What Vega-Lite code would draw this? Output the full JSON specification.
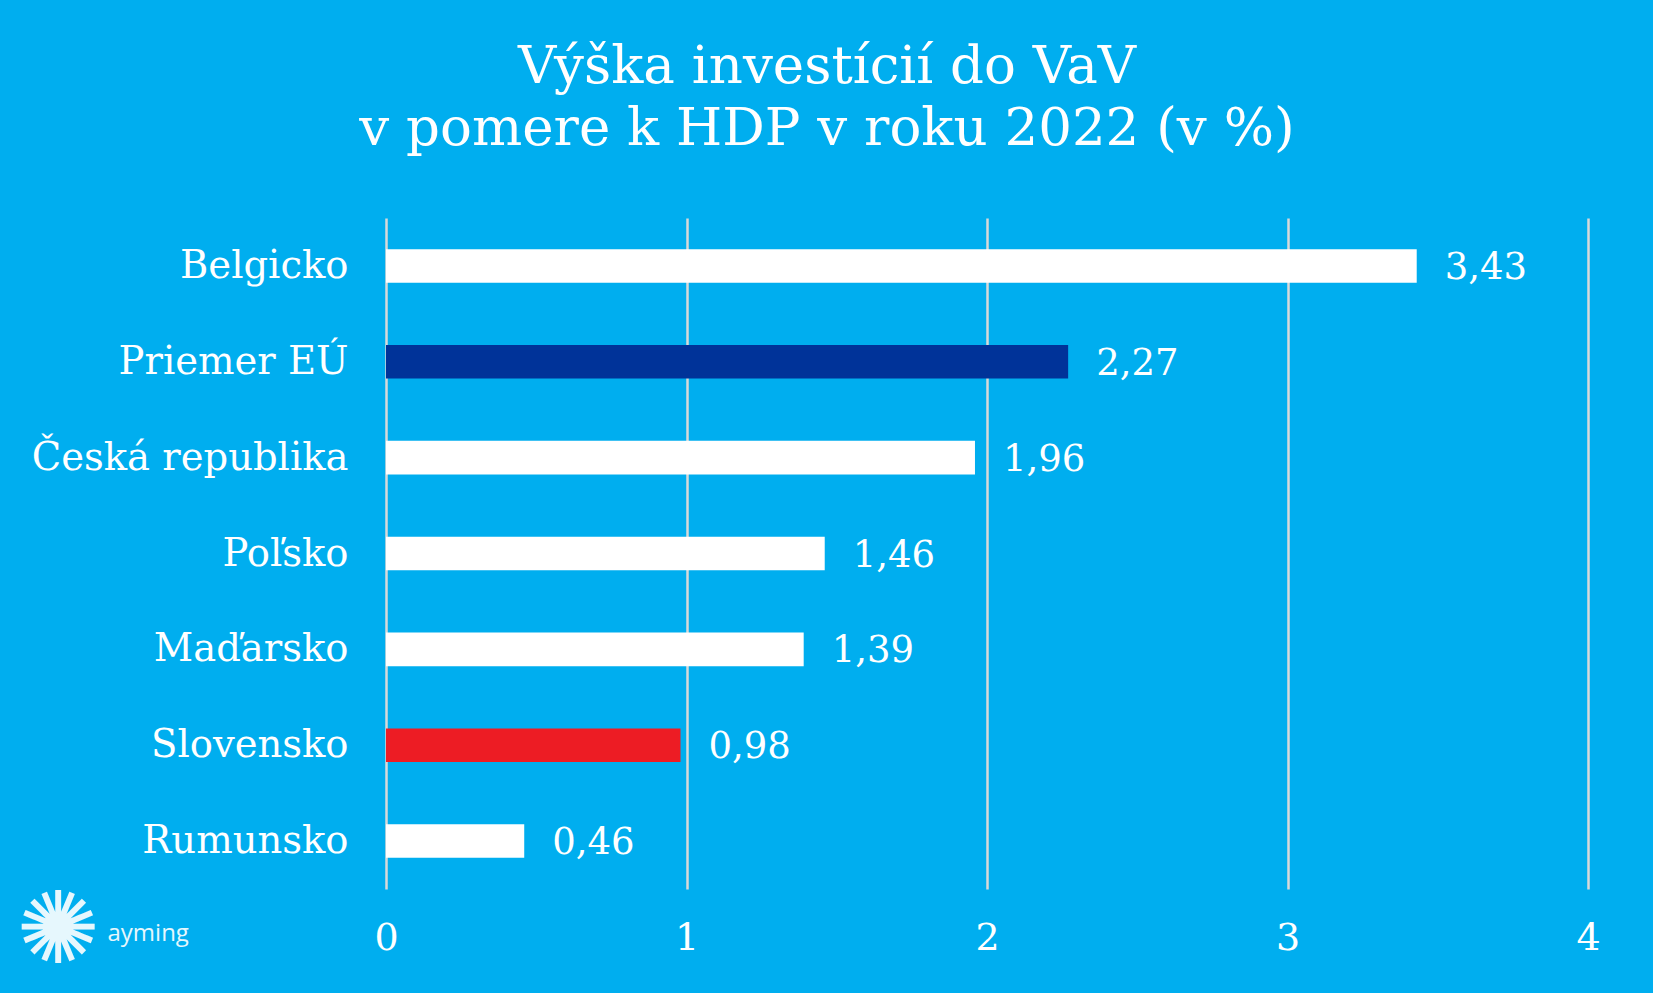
{
  "$schema": "https://vega.github.io/schema/vega-lite/v6.json",
  "autosize": {"type": "none"},
  "width": 1202,
  "height": 671,
  "padding": {"left": 386, "top": 218, "right": 65, "bottom": 104},
  "background": "#00AEEF",
  "title": {
    "text": ["Výška investícií do VaV", "v pomere k HDP v roku 2022 (v %)"],
    "font": "DejaVu Serif",
    "fontSize": 53,
    "fontWeight": "normal",
    "color": "#FFFFFF",
    "lineHeight": 62,
    "anchor": "middle",
    "frame": "group",
    "dx": -160,
    "offset": 62
  },
  "data": {
    "values": [
      {"country": "Belgicko", "value": 3.43, "group": "other"},
      {"country": "Priemer EÚ", "value": 2.27, "group": "eu"},
      {"country": "Česká republika", "value": 1.96, "group": "other"},
      {"country": "Poľsko", "value": 1.46, "group": "other"},
      {"country": "Maďarsko", "value": 1.39, "group": "other"},
      {"country": "Slovensko", "value": 0.98, "group": "sk"},
      {"country": "Rumunsko", "value": 0.46, "group": "other"}
    ]
  },
  "encoding": {
    "y": {
      "field": "country",
      "type": "nominal",
      "sort": null,
      "scale": {"paddingInner": 0.65, "paddingOuter": 0.325},
      "axis": {
        "title": "✺",
        "titleFont": "DejaVu Sans",
        "titleFontSize": 100,
        "titleFontWeight": "normal",
        "titleColor": "#E6F7FD",
        "titleAngle": 0,
        "titleAlign": "center",
        "titleBaseline": "middle",
        "titleX": -328,
        "titleY": 714,
        "domain": false,
        "ticks": false,
        "labelFont": "DejaVu Serif",
        "labelFontSize": 38.5,
        "labelColor": "#FFFFFF",
        "labelPadding": 38,
        "labelLimit": 1000
      }
    },
    "x": {
      "field": "value",
      "type": "quantitative",
      "scale": {"domain": [0, 4], "nice": false, "zero": true},
      "axis": {
        "title": "ayming",
        "titleFont": "Open Sans",
        "titleFontSize": 24,
        "titleFontWeight": "normal",
        "titleColor": "#E6F7FD",
        "titleAlign": "left",
        "titleAnchor": "start",
        "titleBaseline": "alphabetic",
        "titleX": -279,
        "titleY": 51,
        "values": [0, 1, 2, 3, 4],
        "format": "d",
        "grid": true,
        "gridColor": "#D9D9D9",
        "gridWidth": 2.5,
        "domain": false,
        "ticks": false,
        "labelFlush": false,
        "labelOverlap": false,
        "labelFont": "DejaVu Serif",
        "labelFontSize": 38,
        "labelColor": "#FFFFFF",
        "labelPadding": 30
      }
    }
  },
  "layer": [
    {
      "mark": {"type": "bar"},
      "encoding": {
        "color": {
          "field": "group",
          "type": "nominal",
          "scale": {"domain": ["other", "eu", "sk"], "range": ["#FFFFFF", "#003399", "#ED1C24"]},
          "legend": null
        }
      }
    },
    {
      "mark": {"type": "text", "align": "left", "baseline": "middle", "dx": 28, "dy": 2, "font": "DejaVu Serif", "fontSize": 37, "color": "#FFFFFF"},
      "encoding": {
        "text": {"field": "value", "type": "quantitative", "format": ".2f"}
      }
    }
  ],
  "config": {
    "locale": {
      "number": {"decimal": ",", "thousands": " ", "grouping": [3], "currency": ["", " €"]}
    },
    "view": {"stroke": null}
  }
}
